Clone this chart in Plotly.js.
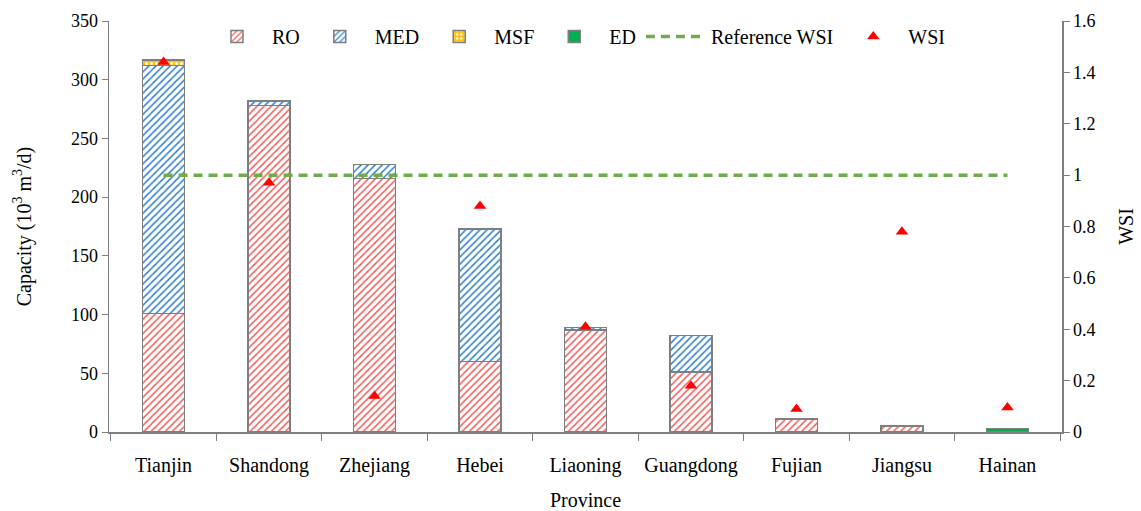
<!DOCTYPE html>
<html><head><meta charset="utf-8">
<script src="https://cdn.plot.ly/plotly-3.0.1.min.js"></script>
<style>body{margin:0;background:#fff}#c{width:1141px;height:511px}</style>
</head><body><div id="c"></div>
<script>
const provinces = ["Tianjin","Shandong","Zhejiang","Hebei","Liaoning","Guangdong","Fujian","Jiangsu","Hainan"];
const RO  = [101, 278, 216, 60, 87, 51, 11, 5, 0];
const MED = [211, 4, 12, 113, 2, 31, 0, 0, 0];
const MSF = [5, 0, 0, 0, 0, 0, 0, 0, 0];
const ED  = [0, 0, 0, 0, 0, 0, 0, 0, 3];
const refWSI = [1,1,1,1,1,1,1,1,1];
const WSI = [1.44, 0.97, 0.14, 0.88, 0.41, 0.18, 0.09, 0.78, 0.095];

const FAM = "Liberation Serif, DejaVu Serif, serif";
const outline = {color:"#7f7f7f", width:1.5};
const tickFont = {family:FAM, size:18, color:"#000"};
const labFont = {family:FAM, size:20, color:"#000"};
const traces = [
  {type:"bar", name:"RO", x:provinces, y:RO, width:0.4,
   marker:{color:"#fff", line:outline, pattern:{shape:"/", fgcolor:"#f25c5c", bgcolor:"#fff", size:5, solidity:0.3}}},
  {type:"bar", name:"MED", x:provinces, y:MED, width:0.4,
   marker:{color:"#fff", line:outline, pattern:{shape:"/", fgcolor:"#2e7fd0", bgcolor:"#fff", size:5, solidity:0.3}}},
  {type:"bar", name:"MSF", x:provinces, y:MSF, width:0.4,
   marker:{color:"#ffc000", line:outline, pattern:{shape:".", fgcolor:"#fff", bgcolor:"#ffc000", size:5, solidity:0.3}}},
  {type:"bar", name:"ED", x:provinces, y:ED, width:0.4,
   marker:{color:"#00b050", line:{color:"#7f7f7f", width:1.5}}},
  {type:"scatter", mode:"lines", name:"Reference WSI", x:provinces, y:refWSI, yaxis:"y2",
   line:{color:"#70ad47", width:3.5, dash:"9px,6px"}},
  {type:"scatter", mode:"markers", name:"WSI", x:provinces, y:WSI, yaxis:"y2",
   marker:{symbol:"triangle-up", color:"#ff0000", size:11}}
];
const layout = {
  width:1141, height:511, barmode:"stack", showlegend:true,
  margin:{l:109, r:79, t:21, b:79},
  paper_bgcolor:"#fff", plot_bgcolor:"#fff", font:labFont,
  legend:{orientation:"h", x:0.49, xanchor:"center", y:1.01, yanchor:"top",
          bgcolor:"rgba(255,255,255,0.9)", font:{family:FAM, size:20, color:"#000"}, traceorder:"normal", itemwidth:60},
  xaxis:{title:{text:"Province", font:labFont, standoff:20}, showline:true, linecolor:"#7f7f7f", linewidth:1.5,
         ticks:"outside", tickson:"boundaries", ticklen:7, tickcolor:"#7f7f7f", tickwidth:1.2,
         ticklabelstandoff:14, showgrid:false, tickfont:labFont, zeroline:false},
  yaxis:{title:{text:"Capacity (10<sup>3</sup> m<sup>3</sup>/d)", font:labFont, standoff:34}, range:[0,350], dtick:50,
         showline:true, linecolor:"#7f7f7f", linewidth:1.5, ticks:"outside", ticklen:6,
         tickcolor:"#7f7f7f", showgrid:false, zeroline:false, tickfont:tickFont},
  yaxis2:{title:{text:"WSI", font:labFont, standoff:24}, overlaying:"y", side:"right", range:[0,1.6], dtick:0.2,
          showline:true, linecolor:"#7f7f7f", linewidth:1.5, ticks:"outside", ticklen:6,
          tickcolor:"#7f7f7f", showgrid:false, zeroline:false, tickfont:tickFont}
};
Plotly.newPlot("c", traces, layout, {displayModeBar:false, staticPlot:true});
</script></body></html>
